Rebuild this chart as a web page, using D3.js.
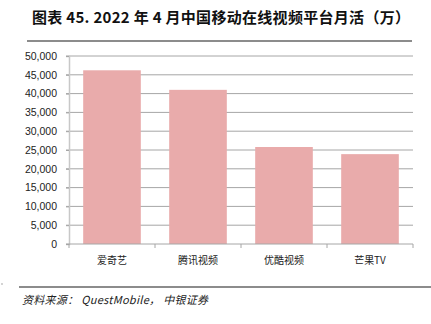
<!DOCTYPE html>
<html>
<head>
<meta charset="utf-8">
<script src="https://cdn.jsdelivr.net/npm/d3@7"></script>
<style>
  body { margin: 0; background: #fff; }
  svg { display: block; }
</style>
</head>
<body>
<script>
const categories = ["爱奇艺", "腾讯视频", "优酷视频", "芒果TV"];
const mau = [46200, 41000, 25800, 23900];
const yTicks = [0, 5000, 10000, 15000, 20000, 25000, 30000, 35000, 40000, 45000, 50000];

const width = 431, height = 324;
const svg = d3.select("body").append("svg")
    .attr("width", width)
    .attr("height", height);

// title
svg.append("text")
    .attr("x", 32)
    .attr("y", 23)
    .attr("font-family", "'Noto Sans CJK SC', sans-serif")
    .attr("font-weight", "bold")
    .attr("font-size", 15)
    .attr("fill", "#111")
    .attr("textLength", 378)
    .attr("lengthAdjust", "spacing")
    .text("图表 45. 2022 年 4 月中国移动在线视频平台月活（万）");

svg.append("line")
    .attr("x1", 27).attr("x2", 412)
    .attr("y1", 41).attr("y2", 41)
    .attr("stroke", "#8c8c8c")
    .attr("stroke-width", 2);

let x = d3.scaleBand()
    .domain(categories)
    .range([69, 413])
    .paddingInner(0.33)
    .paddingOuter(0.165);

let y = d3.scaleLinear()
    .domain([0, 50000])
    .range([244, 56]);

// gridlines
svg.append("g")
    .selectAll("line")
    .data(yTicks.slice(1))
    .enter()
    .append("line")
    .attr("x1", 66).attr("x2", 413)
    .attr("y1", d => y(d)).attr("y2", d => y(d))
    .attr("stroke", "#a6a6a6")
    .attr("stroke-width", 1);

// bars
svg.append("g")
    .selectAll("rect")
    .data(mau)
    .enter()
    .append("rect")
    .attr("x", (d, i) => x(categories[i]))
    .attr("y", d => y(d))
    .attr("width", x.bandwidth())
    .attr("height", d => y(0) - y(d))
    .attr("fill", "#e9abab");

// y axis
let yAxis = svg.append("g")
    .attr("transform", "translate(69,0)")
    .call(d3.axisLeft(y).tickValues(yTicks).tickSize(3).tickPadding(9).tickFormat(d3.format(",")));
yAxis.select(".domain").attr("stroke", "#c8c8c8").attr("stroke-width", 1.5);
yAxis.selectAll(".tick line").attr("stroke", "#a6a6a6");
yAxis.selectAll("text")
    .attr("font-family", "'Liberation Sans', Arial, sans-serif")
    .attr("font-size", 10.5)
    .attr("fill", "#222");

// x axis
let xBoundaries = d3.scaleLinear().domain([0, 4]).range([69, 413]);
let xAxis = svg.append("g")
    .attr("transform", "translate(0,244)");
xAxis.append("line")
    .attr("x1", 66).attr("x2", 413)
    .attr("stroke", "#a6a6a6");
xAxis.selectAll("line.t")
    .data([0, 1, 2, 3, 4])
    .enter()
    .append("line")
    .attr("class", "t")
    .attr("x1", d => xBoundaries(d)).attr("x2", d => xBoundaries(d))
    .attr("y1", 0).attr("y2", 4)
    .attr("stroke", "#a6a6a6");
xAxis.selectAll("text")
    .data(categories)
    .enter()
    .append("text")
    .attr("x", d => x(d) + x.bandwidth() / 2)
    .attr("y", 20)
    .attr("text-anchor", "middle")
    .attr("font-family", "'Noto Sans CJK SC', serif")
    .attr("font-size", 10)
    .attr("fill", "#222")
    .text(d => d);

// source
svg.append("circle")
    .attr("cx", 2).attr("cy", 284).attr("r", 0.7)
    .attr("fill", "#888");

svg.append("line")
    .attr("x1", 19).attr("x2", 431)
    .attr("y1", 287).attr("y2", 287)
    .attr("stroke", "#8c8c8c")
    .attr("stroke-width", 2);

svg.append("text")
    .attr("x", 22)
    .attr("y", 304)
    .attr("font-family", "'Noto Sans CJK SC', 'Liberation Sans', sans-serif")
    .attr("font-style", "italic")
    .attr("font-size", 11)
    .attr("fill", "#222")
    .attr("textLength", 186)
    .attr("lengthAdjust", "spacing")
    .text("资料来源： QuestMobile， 中银证券");
</script>
</body>
</html>
